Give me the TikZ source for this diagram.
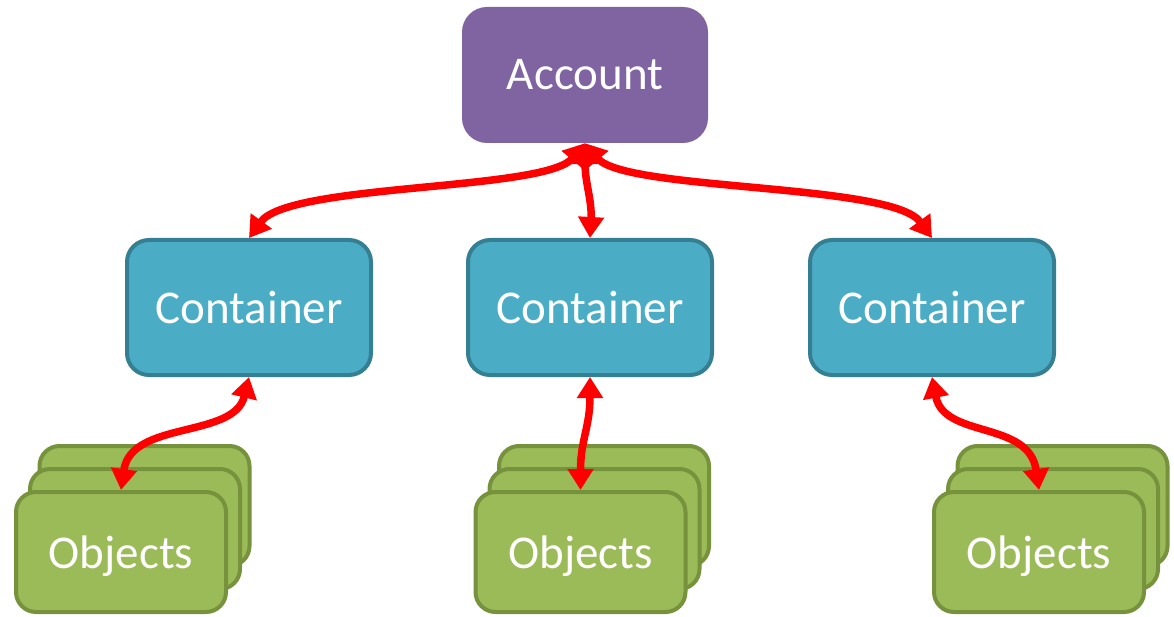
\documentclass[tikz,border=0pt]{standalone}
\usepackage{fontspec}
\setmainfont{Carlito}
\usetikzlibrary{arrows.meta,calc}
\definecolor{accfill}{HTML}{8064A2}
\definecolor{confill}{HTML}{4BACC6}
\definecolor{condraw}{HTML}{357F93}
\definecolor{objfill}{HTML}{9BBB59}
\definecolor{objdraw}{HTML}{76923C}
\newcommand\objstack[3]{%
  \node[objbox] (#1c) at (#2+23.5,#3-46) {};
  \node[objbox] (#1b) at (#2+14,#3-23) {};
  \node[objbox,text depth=0pt] (#1) at (#2,#3) {Objects};}
\begin{document}
\begin{tikzpicture}[x=1pt,y=-1pt,
  lbl/.style={text=white,font=\fontsize{47}{56}\selectfont,inner sep=0pt},
  account/.style={lbl,fill=accfill,rounded corners=25pt,minimum width=246pt,minimum height=136pt},
  container/.style={lbl,fill=confill,draw=condraw,line width=4pt,rounded corners=22pt,minimum width=244pt,minimum height=135pt},
  objbox/.style={lbl,fill=objfill,draw=objdraw,line width=4pt,rounded corners=20pt,minimum width=210pt,minimum height=120pt},
  link/.style={draw=red,line width=7.5pt,{Triangle[length=21pt,width=25pt]}-{Triangle[length=21pt,width=25pt]}}
]
\useasboundingbox (0,0) rectangle (1174,617);
\node[account] (acc) at (585,75) {Account};
\node[container] (c1) at (249,307.5) {Container};
\node[container] (c2) at (590,307.5) {Container};
\node[container] (c3) at (932,307.5) {Container};
\objstack{o1}{121}{552}
\objstack{o2}{580.5}{552}
\objstack{o3}{1039}{552}
\draw[link] (acc.south) .. controls ($(acc.south)+(-40,48)$) and ($(c1.north)+(40,-55)$) .. (c1.north);
\draw[link] (acc.south) .. controls ($(acc.south)+(0,40)$) and ($(c2.north)+(2,-38)$) .. (c2.north);
\draw[link] (acc.south) .. controls ($(acc.south)+(40,48)$) and ($(c3.north)+(-40,-55)$) .. (c3.north);
\draw[link] (c1.south) .. controls ($(c1.south)+(-15,62)$) and ($(o1.north)+(10,-70)$) .. (o1.north);
\draw[link] (c2.south) .. controls ($(c2.south)+(0,50)$) and ($(o2.north)+(0,-50)$) .. (o2.north);
\draw[link] (c3.south) .. controls ($(c3.south)+(12,62)$) and ($(o3.north)+(-10,-70)$) .. (o3.north);
\end{tikzpicture}
\end{document}
